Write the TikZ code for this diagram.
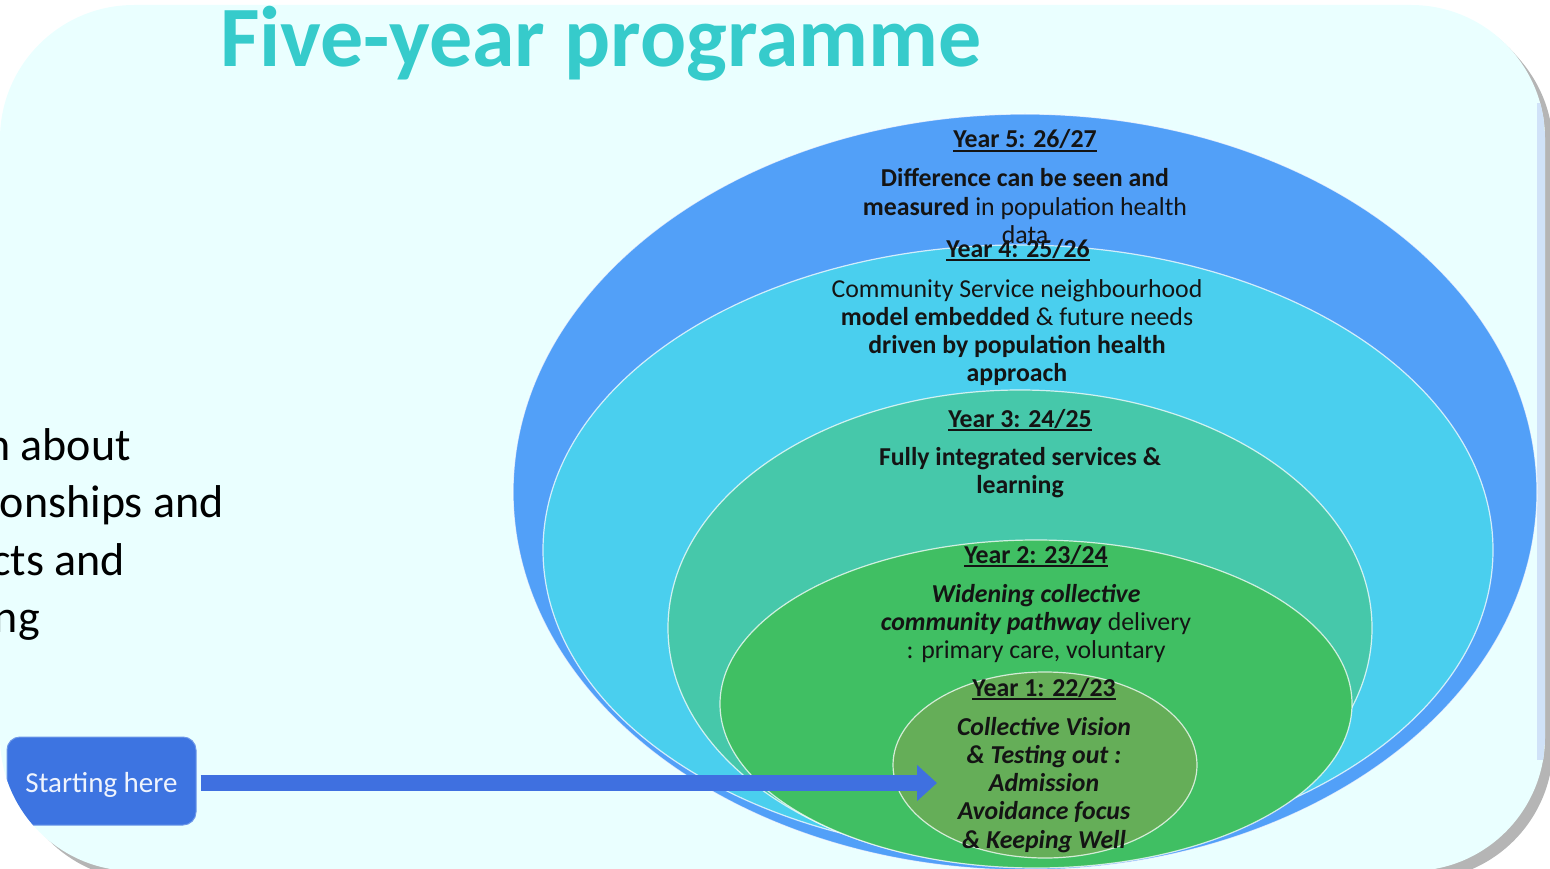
\documentclass[tikz,border=0pt]{standalone}
\usepackage{fontspec}
\setmainfont{Carlito}
\usetikzlibrary{shapes.geometric,arrows.meta,calc}
\definecolor{panelbg}{HTML}{EAFFFF}
\definecolor{yfive}{HTML}{52A0F8}
\definecolor{yfour}{HTML}{4ACFEE}
\definecolor{ythree}{HTML}{46C8AA}
\definecolor{ytwo}{HTML}{40BF63}
\definecolor{yone}{HTML}{65AE58}
\definecolor{titlecol}{HTML}{36CBCB}
\definecolor{boxcol}{HTML}{3D74E1}
\definecolor{arrowcol}{HTML}{3F70E0}
\definecolor{txt}{HTML}{141414}
\definecolor{shadowcol}{HTML}{B5B5B5}
\definecolor{stripecol}{HTML}{D0E2F8}
\newcommand\yearul[1]{\setbox0\hbox{#1}\rlap{\rule[-4pt]{\wd0}{1.6pt}}\box0}
\begin{document}
\begin{tikzpicture}[x=1pt,y=-1pt,
  ring/.style={ellipse, draw=white, draw opacity=0.75, line width=1.2pt, inner sep=0pt},
  yearlabel/.style={anchor=base, inner sep=0pt, text=txt, font=\fontsize{25.8}{28.3}\selectfont\bfseries},
  yearbody/.style={anchor=base, inner sep=0pt, text=txt, align=center, font=\fontsize{25.8}{28.3}\selectfont},
  sidetext/.style={anchor=base east, inner sep=0pt, text=black, font=\fontsize{46}{56}\selectfont},
  panelshape/.style={rounded corners=134pt},
]
\useasboundingbox (0,0) rectangle (1550,869);
\fill[shadowcol!40, panelshape] (6,9) rectangle (1549,875);
\fill[shadowcol, panelshape] (10,14) rectangle (1553,880);
\fill[panelbg, panelshape] (0,5) rectangle (1545,871);
\begin{scope}
\clip[panelshape] (0,5) rectangle (1545,871);
\fill[stripecol] (1537,103) rectangle (1545,760);
\node[anchor=base, inner sep=0pt, text=titlecol, font=\fontsize{86}{90}\selectfont\bfseries] (title) at (601,67) {Five-year programme};

% last-line baselines are used as anchors of the multi-line bodies
\node[ring, fill=yfive, minimum width=1024pt, minimum height=756pt] (e5) at (1025,492) {};
\node[yearlabel] (l5) at (1025,148) {\yearul{Year 5: 26/27}};
\node[yearbody] (b5) at (1025,243.6) {\textbf{Difference can be seen and}\\\textbf{measured} in population health\\data};

\node[ring, fill=yfour, minimum width=950pt, minimum height=610pt] (e4) at (1018,550) {};
\node[yearlabel] (l4) at (1018,257) {\yearul{Year 4: 25/26}};
\node[yearbody] (b4) at (1017,381.9) {Community Service neighbourhood\\\textbf{model embedded} \& future needs\\\textbf{driven by population health}\\\textbf{approach}};

\node[ring, fill=ythree, minimum width=704pt, minimum height=476pt] (e3) at (1020,628) {};
\node[yearlabel] (l3) at (1020,427) {\yearul{Year 3: 24/25}};
\node[yearbody] (b3) at (1020,493.3) {\textbf{Fully integrated services \&}\\\textbf{learning}};

\node[ring, fill=ytwo, minimum width=632pt, minimum height=328pt] (e2) at (1036,704) {};
\node[yearlabel] (l2) at (1036,563) {\yearul{Year 2: 23/24}};
\node[yearbody] (b2) at (1036,658.6) {\textbf{\textit{Widening collective}}\\\textbf{\textit{community pathway}} delivery\\: primary care, voluntary};

\node[ring, fill=yone, minimum width=304pt, minimum height=186pt] (e1) at (1045,765) {};
\node[yearlabel] (l1) at (1044,696) {\yearul{Year 1: 22/23}};
\node[yearbody, font=\fontsize{25.8}{28.3}\selectfont\bfseries\itshape] (b1) at (1044,848.2) {Collective Vision\\\& Testing out :\\Admission\\Avoidance focus\\\& Keeping Well};

\node[sidetext] (s1) at (131,460) {n about};
\node[sidetext] (s2) at (224,517) {onships and};
\node[sidetext] (s3) at (125,575) {cts and};
\node[sidetext] (s4) at (40,632) {ng};

\node[draw=boxcol!75!white, line width=1pt, fill=boxcol, rounded corners=13pt, minimum width=189pt, minimum height=88pt, inner sep=0pt, text=white!92!boxcol, font=\fontsize{29}{30}\selectfont, text height=26pt, text depth=4pt] (start) at (101.5,781) {Starting here};
\coordinate (tip) at (937,783);
\draw[arrowcol, line width=16pt, -{Triangle[width=35pt,length=20pt]}] ($(start.east |- tip)+(4,0)$) -- (tip);
\end{scope}
\end{tikzpicture}
\end{document}
